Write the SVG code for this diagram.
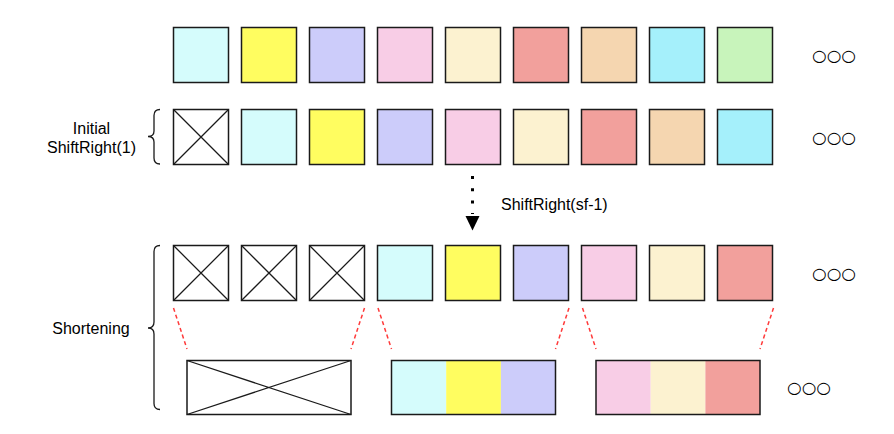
<svg xmlns="http://www.w3.org/2000/svg" width="894" height="434" viewBox="0 0 894 434">
<defs>
<style>
.b{stroke:#1a1a1a;stroke-width:1.5}
.x{fill:#fff}
.xl{stroke:#1a1a1a;stroke-width:1.3;fill:none}
.c1{fill:#d5fcfc}.c2{fill:#fffd60}.c3{fill:#ccccfa}.c4{fill:#f8cde6}.c5{fill:#fcf2d0}.c6{fill:#f2a09c}.c7{fill:#f5d6b0}.c8{fill:#a5f0fb}.c9{fill:#c8f4bb}
.t{font-family:"Liberation Sans",Arial,sans-serif;font-size:16px;fill:#000}
.dots{font-family:"DejaVu Sans",sans-serif;font-size:16px;fill:#000}
.red{stroke:#ff3b3b;stroke-width:1.5;stroke-dasharray:4 3;fill:none}
.brace{stroke:#1a1a1a;stroke-width:1.3;fill:none}
</style>
</defs>
<rect width="894" height="434" fill="#fff"/>

<g id="row1">
<rect class="b c1" x="173.5" y="27.5" width="55" height="55"/>
<rect class="b c2" x="241.5" y="27.5" width="55" height="55"/>
<rect class="b c3" x="309.5" y="27.5" width="55" height="55"/>
<rect class="b c4" x="377.5" y="27.5" width="55" height="55"/>
<rect class="b c5" x="445.5" y="27.5" width="55" height="55"/>
<rect class="b c6" x="513.5" y="27.5" width="55" height="55"/>
<rect class="b c7" x="581.5" y="27.5" width="55" height="55"/>
<rect class="b c8" x="649.5" y="27.5" width="55" height="55"/>
<rect class="b c9" x="717.5" y="27.5" width="55" height="55"/>
<text class="dots" x="812" y="61" textLength="44" lengthAdjust="spacingAndGlyphs">○○○</text>
</g>

<g id="row2">
<rect class="b x" x="173.5" y="109.5" width="55" height="55"/>
<path class="xl" d="M173.5,109.5L228.5,164.5M228.5,109.5L173.5,164.5"/>
<rect class="b c1" x="241.5" y="109.5" width="55" height="55"/>
<rect class="b c2" x="309.5" y="109.5" width="55" height="55"/>
<rect class="b c3" x="377.5" y="109.5" width="55" height="55"/>
<rect class="b c4" x="445.5" y="109.5" width="55" height="55"/>
<rect class="b c5" x="513.5" y="109.5" width="55" height="55"/>
<rect class="b c6" x="581.5" y="109.5" width="55" height="55"/>
<rect class="b c7" x="649.5" y="109.5" width="55" height="55"/>
<rect class="b c8" x="717.5" y="109.5" width="55" height="55"/>
<text class="dots" x="812" y="143" textLength="44" lengthAdjust="spacingAndGlyphs">○○○</text>
</g>

<g id="label-initial">
<path class="brace" d="M160,109.5Q154,109.5 154,115.5L154,131Q154,136.5 148,136.5Q154,136.5 154,142L154,158Q154,164 160,164"/>
<text class="t" x="91.5" y="134" text-anchor="middle">Initial</text>
<text class="t" x="91.5" y="153" text-anchor="middle">ShiftRight(1)</text>
</g>

<g id="connectors">
<line x1="472.5" y1="176" x2="472.5" y2="214" stroke="#000" stroke-width="3" stroke-dasharray="3 9.3"/>
<polygon points="465.5,216 479.5,216 472.5,230.5" fill="#000"/>
<path class="red" d="M173.5,308L187,349"/>
<path class="red" d="M364.5,308L351,349"/>
<path class="red" d="M378,308L391.5,349"/>
<path class="red" d="M569,308L555.5,349"/>
<path class="red" d="M582.5,308L596,349"/>
<path class="red" d="M773.5,308L760,349"/>
</g>
<text class="t" x="501" y="210">ShiftRight(sf-1)</text>

<g id="row3">
<rect class="b x" x="173.5" y="245.5" width="55" height="55"/>
<path class="xl" d="M173.5,245.5L228.5,300.5M228.5,245.5L173.5,300.5"/>
<rect class="b x" x="241.5" y="245.5" width="55" height="55"/>
<path class="xl" d="M241.5,245.5L296.5,300.5M296.5,245.5L241.5,300.5"/>
<rect class="b x" x="309.5" y="245.5" width="55" height="55"/>
<path class="xl" d="M309.5,245.5L364.5,300.5M364.5,245.5L309.5,300.5"/>
<rect class="b c1" x="377.5" y="245.5" width="55" height="55"/>
<rect class="b c2" x="445.5" y="245.5" width="55" height="55"/>
<rect class="b c3" x="513.5" y="245.5" width="55" height="55"/>
<rect class="b c4" x="581.5" y="245.5" width="55" height="55"/>
<rect class="b c5" x="649.5" y="245.5" width="55" height="55"/>
<rect class="b c6" x="717.5" y="245.5" width="55" height="55"/>
<text class="dots" x="812" y="279" textLength="44" lengthAdjust="spacingAndGlyphs">○○○</text>
</g>

<g id="row4">
<rect class="b x" x="187" y="360.5" width="164" height="54"/>
<path class="xl" d="M187,360.5L351,414.5M351,360.5L187,414.5"/>
<g id="group-a">
<rect class="c1" x="391.5" y="360.5" width="54.7" height="54"/>
<rect class="c2" x="446.2" y="360.5" width="54.7" height="54"/>
<rect class="c3" x="500.9" y="360.5" width="54.6" height="54"/>
<rect class="b" fill="none" x="391.5" y="360.5" width="164" height="54"/>
</g>
<g id="group-b">
<rect class="c4" x="596" y="360.5" width="54.7" height="54"/>
<rect class="c5" x="650.7" y="360.5" width="54.7" height="54"/>
<rect class="c6" x="705.4" y="360.5" width="54.6" height="54"/>
<rect class="b" fill="none" x="596" y="360.5" width="164" height="54"/>
</g>
<text class="dots" x="787" y="393" textLength="44" lengthAdjust="spacingAndGlyphs">○○○</text>
</g>

<g id="label-shortening">
<path class="brace" d="M160,245.5Q154,245.5 154,251.5L154,322Q154,328 148,328Q154,328 154,334L154,403.5Q154,409.5 160,409.5"/>
<text class="t" x="91" y="334" text-anchor="middle">Shortening</text>
</g>
</svg>
